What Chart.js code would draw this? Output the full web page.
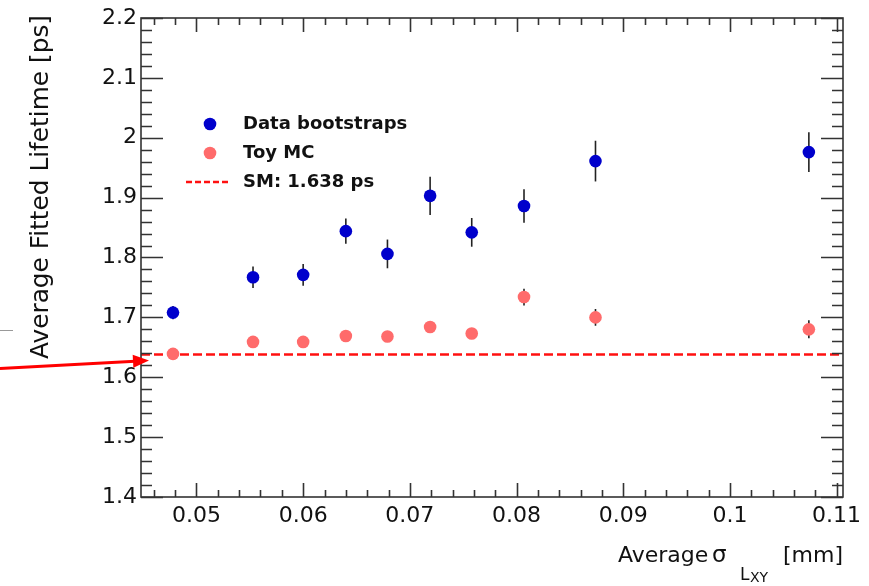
<!DOCTYPE html>
<html lang="en">
<head>
<meta charset="UTF-8">
<title>Average Fitted Lifetime vs Average sigma_Lxy</title>
<script src="https://cdn.jsdelivr.net/npm/chart.js"></script>
<style>
  html, body { margin: 0; padding: 0; background: #fff; }
  #wrap { width: 869px; height: 586px; }
</style>
</head>
<body>
<div id="wrap"><canvas id="c" width="869" height="586"></canvas></div>
<script>
// values
const sigmaLxy     = [0.0478, 0.0553, 0.0600, 0.0640, 0.0679, 0.0719, 0.0758, 0.0807, 0.0874, 0.1074];
const dataLifetime = [1.708, 1.767, 1.771, 1.844, 1.806, 1.903, 1.842, 1.886, 1.961, 1.976];
const dataErr      = [0.011, 0.018, 0.018, 0.021, 0.024, 0.032, 0.024, 0.028, 0.034, 0.033];
const toyLifetime  = [1.639, 1.659, 1.659, 1.669, 1.668, 1.684, 1.673, 1.734, 1.700, 1.680];
const toyErr       = [0.003, 0.004, 0.004, 0.005, 0.005, 0.007, 0.005, 0.014, 0.014, 0.015];
const smLifetime   = 1.638;

const xTicks = [0.05, 0.06, 0.07, 0.08, 0.09, 0.1, 0.11];
const yTicks = [1.4, 1.5, 1.6, 1.7, 1.8, 1.9, 2, 2.1, 2.2];
const xRange = [0.0448, 0.1106];
const yRange = [1.4, 2.2];

const FONT = '"DejaVu Sans", "Liberation Sans", Arial, sans-serif';
const AXIS = '#333';
const fmt = v => String(parseFloat(v.toFixed(3)));

// minor ticks: 5 divisions per major step, extended to the axis ends
function minorValues(majors, lo, hi) {
  const step = (majors[1] - majors[0]) / 5;
  const out = [];
  for (let v = majors[0]; v >= lo - 1e-9; v -= step) out.push(v);
  for (let v = majors[0] + step; v <= hi + 1e-9; v += step) out.push(v);
  return out;
}

const errorBars = {
  id: 'errorBars',
  beforeDatasetsDraw(chart) {
    const ctx = chart.ctx, x = chart.scales.x, y = chart.scales.y;
    chart.data.datasets.forEach(ds => {
      if (!ds.errors) return;
      ctx.save();
      ctx.strokeStyle = '#222';
      ctx.lineWidth = 1.6;
      ds.data.forEach((p, i) => {
        const px = x.getPixelForValue(p.x);
        ctx.beginPath();
        ctx.moveTo(px, y.getPixelForValue(p.y - ds.errors[i]));
        ctx.lineTo(px, y.getPixelForValue(p.y + ds.errors[i]));
        ctx.stroke();
      });
      ctx.restore();
    });
  }
};

const frame = {
  id: 'frame',
  afterDatasetsDraw(chart) {
    const ctx = chart.ctx, a = chart.chartArea, x = chart.scales.x, y = chart.scales.y;
    ctx.save();
    ctx.strokeStyle = AXIS;
    ctx.lineWidth = 1.6;
    ctx.strokeRect(a.left, a.top, a.right - a.left, a.bottom - a.top);
    ctx.beginPath();
    const xMaj = new Set(xTicks.map(fmt));
    minorValues(xTicks, xRange[0], xRange[1]).forEach(v => {
      const px = Math.round(x.getPixelForValue(v)) + 0.5;
      const big = xMaj.has(fmt(v));
      ctx.moveTo(px, a.bottom); ctx.lineTo(px, a.bottom - (big ? 14 : 7));
      ctx.moveTo(px, a.top);    ctx.lineTo(px, a.top + (big ? 14 : 7));
    });
    const yMaj = new Set(yTicks.map(fmt));
    minorValues(yTicks, yRange[0], yRange[1]).forEach(v => {
      const py = Math.round(y.getPixelForValue(v)) + 0.5;
      const big = yMaj.has(fmt(v));
      ctx.moveTo(a.left, py);  ctx.lineTo(a.left + (big ? 22 : 11), py);
      ctx.moveTo(a.right, py); ctx.lineTo(a.right - (big ? 22 : 11), py);
    });
    ctx.stroke();
    ctx.restore();
  }
};

const decorations = {
  id: 'decorations',
  afterDraw(chart) {
    const ctx = chart.ctx, a = chart.chartArea, y = chart.scales.y;
    ctx.save();
    ctx.fillStyle = '#111';

    // y title, aligned to the top of the axis
    ctx.save();
    ctx.translate(42, 15);
    ctx.rotate(-Math.PI / 2);
    ctx.font = '24.8px ' + FONT;
    ctx.textAlign = 'right';
    ctx.textBaseline = 'middle';
    ctx.fillText('Average Fitted Lifetime [ps]', 0, 0);
    ctx.restore();

    // x title with subscript, placed back from the right end of the axis
    const base = 562;
    ctx.textBaseline = 'alphabetic';
    ctx.textAlign = 'left';
    ctx.font = '22px ' + FONT;
    ctx.fillText('Average', a.right - 225, base);
    ctx.font = '23px ' + FONT;
    ctx.fillText('σ', a.right - 131, base);
    ctx.font = '17px ' + FONT;
    ctx.fillText('L', a.right - 103, base + 18);
    ctx.font = '14px ' + FONT;
    ctx.fillText('XY', a.right - 93, base + 20);
    ctx.font = '22px ' + FONT;
    ctx.textAlign = 'right';
    ctx.fillText('[mm]', a.right, base);

    // legend
    const ds = chart.data.datasets;
    const rows = [124, 153, 182];
    ctx.font = 'bold 18px ' + FONT;
    ctx.textAlign = 'left';
    ctx.textBaseline = 'middle';
    ds.forEach((d, i) => {
      const ry = rows[i];
      if (d.type === 'line') {
        ctx.save();
        ctx.strokeStyle = d.borderColor;
        ctx.lineWidth = 2.5;
        ctx.setLineDash([6, 3]);
        ctx.beginPath(); ctx.moveTo(186, ry); ctx.lineTo(231, ry); ctx.stroke();
        ctx.restore();
      } else {
        ctx.beginPath();
        ctx.fillStyle = d.backgroundColor;
        ctx.arc(210, ry, 6.3, 0, Math.PI * 2);
        ctx.fill();
      }
      ctx.fillStyle = '#111';
      ctx.fillText(d.label, 243, ry);
    });

    // small grey dash at the left edge
    ctx.strokeStyle = '#999';
    ctx.lineWidth = 1;
    ctx.beginPath(); ctx.moveTo(0, 330.5); ctx.lineTo(13, 330.5); ctx.stroke();

    // red arrow pointing at the SM line
    const tx = a.left + 8, ty = y.getPixelForValue(smLifetime) + 6;
    const sx = 0, sy = ty + 8;
    const ang = Math.atan2(ty - sy, tx - sx);
    ctx.strokeStyle = '#f00';
    ctx.fillStyle = '#f00';
    ctx.lineWidth = 3;
    ctx.beginPath();
    ctx.moveTo(sx, sy);
    ctx.lineTo(tx - 14 * Math.cos(ang), ty - 14 * Math.sin(ang));
    ctx.stroke();
    ctx.beginPath();
    ctx.moveTo(tx, ty);
    ctx.lineTo(tx - 16 * Math.cos(ang) + 6.5 * Math.sin(ang), ty - 16 * Math.sin(ang) - 6.5 * Math.cos(ang));
    ctx.lineTo(tx - 16 * Math.cos(ang) - 6.5 * Math.sin(ang), ty - 16 * Math.sin(ang) + 6.5 * Math.cos(ang));
    ctx.closePath();
    ctx.fill();
    ctx.restore();
  }
};

new Chart(document.getElementById('c'), {
  type: 'scatter',
  data: {
    datasets: [
      {
        label: 'Data bootstraps',
        data: sigmaLxy.map((x, i) => ({ x, y: dataLifetime[i] })),
        errors: dataErr,
        backgroundColor: '#0000cc',
        borderWidth: 0,
        pointRadius: 6.3,
        order: 0
      },
      {
        label: 'Toy MC',
        data: sigmaLxy.map((x, i) => ({ x, y: toyLifetime[i] })),
        errors: toyErr,
        backgroundColor: '#ff6b6b',
        borderWidth: 0,
        pointRadius: 6.3,
        order: 1
      },
      {
        type: 'line',
        label: 'SM: ' + smLifetime + ' ps',
        data: [{ x: xRange[0], y: smLifetime }, { x: xRange[1], y: smLifetime }],
        borderColor: '#ff1010',
        borderWidth: 2.5,
        borderDash: [9, 4],
        pointRadius: 0,
        order: 10
      }
    ]
  },
  options: {
    responsive: false,
    animation: false,
    devicePixelRatio: 1,
    layout: { padding: { top: 18, right: 26, left: 0, bottom: 0 } },
    plugins: { legend: { display: false }, tooltip: { enabled: false } },
    scales: {
      x: {
        type: 'linear',
        min: xRange[0],
        max: xRange[1],
        afterBuildTicks: s => { s.ticks = xTicks.map(v => ({ value: v })); },
        afterFit: s => { s.height = 89; },
        grid: { display: false, drawTicks: false },
        border: { display: false },
        ticks: {
          color: '#111',
          font: { family: FONT, size: 22 },
          padding: 6,
          maxRotation: 0,
          autoSkip: false,
          callback: v => fmt(v)
        }
      },
      y: {
        type: 'linear',
        min: yRange[0],
        max: yRange[1],
        afterBuildTicks: s => { s.ticks = yTicks.map(v => ({ value: v })); },
        afterFit: s => { s.width = 141; },
        grid: { display: false, drawTicks: false },
        border: { display: false },
        ticks: {
          color: '#111',
          font: { family: FONT, size: 22 },
          padding: 4,
          autoSkip: false,
          callback: v => fmt(v)
        }
      }
    }
  },
  plugins: [errorBars, frame, decorations]
});
</script>
</body>
</html>
